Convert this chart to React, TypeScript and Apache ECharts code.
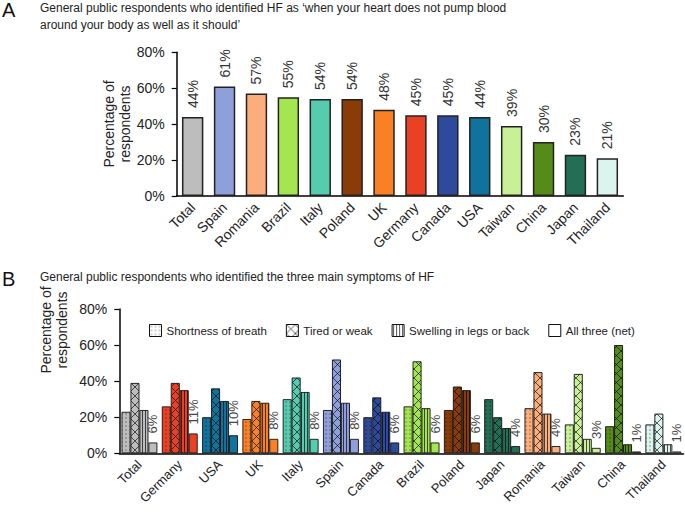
import React, { useEffect, useRef } from 'react';
import * as echarts from 'echarts';

const topCategories = ['Total', 'Spain', 'Romania', 'Brazil', 'Italy', 'Poland', 'UK', 'Germany', 'Canada', 'USA', 'Taiwan', 'China', 'Japan', 'Thailand'];
const topValues = [44, 61, 57, 55, 54, 54, 48, 45, 45, 44, 39, 30, 23, 21];

const bottomCategories = ['Total', 'Germany', 'USA', 'UK', 'Italy', 'Spain', 'Canada', 'Brazil', 'Poland', 'Japan', 'Romania', 'Taiwan', 'China', 'Thailand'];
const shortnessValues = [23, 26, 20, 19, 30, 24, 20, 26, 24, 30, 25, 16, 15, 16];
const tiredValues = [39, 39, 36, 29, 42, 52, 31, 51, 37, 20, 45, 44, 60, 22];
const swellingValues = [24, 35, 29, 28, 34, 28, 23, 25, 35, 14, 22, 8, 5, 5];
const allThreeValues = [6, 11, 10, 8, 8, 8, 6, 6, 6, 4, 4, 3, 1, 1];

const seriesNames = ['Shortness of breath', 'Tired or weak', 'Swelling in legs or back', 'All three (net)'];
const seriesPatterns = ['dots', 'cross', 'lines', 'solid'];

const yTicks = [0, 20, 40, 60, 80];

const titleA1 = 'General public respondents who identified HF as \u2018when your heart does not pump blood';
const titleA2 = 'around your body as well as it should\u2019';
const titleB = 'General public respondents who identified the three main symptoms of HF';
const yName = 'Percentage of\nrespondents';

const countryColors: Record<string, string> = {
  Total: '#bdbdbd',
  Spain: '#8f9fdc',
  Romania: '#fbad7b',
  Brazil: '#a4e64f',
  Italy: '#55ccae',
  Poland: '#8a3b08',
  UK: '#f98025',
  Germany: '#ea4125',
  Canada: '#2e4a9c',
  USA: '#10739d',
  Taiwan: '#c8f097',
  China: '#558b18',
  Japan: '#226f56',
  Thailand: '#dcf4ee',
};

const FONT = '"Liberation Sans", Arial, Helvetica, sans-serif';

function makePattern(color: string, kind: string): any {
  if (kind === 'solid') return color;
  let w = 4;
  let h = 4;
  let body = '';
  if (kind === 'dots') {
    w = 4; h = 4;
    body = '<rect x="1.5" y="1.5" width="1" height="1" fill="#000" fill-opacity="0.75"/>';
  } else if (kind === 'cross') {
    w = 9; h = 9;
    body = '<path d="M0 0L9 9M9 0L0 9" stroke="#000" stroke-opacity="0.8" stroke-width="0.8" fill="none"/>';
  } else if (kind === 'lines') {
    w = 3; h = 3;
    body = '<rect x="1" y="0" width="0.9" height="3" fill="#000" fill-opacity="0.75"/>';
  }
  const svg = `<svg xmlns="http://www.w3.org/2000/svg" width="${w}" height="${h}"><rect width="${w}" height="${h}" fill="${color}"/>${body}</svg>`;
  return {
    image: 'data:image/svg+xml;charset=utf-8,' + encodeURIComponent(svg),
    repeat: 'repeat',
    imageWidth: w,
    imageHeight: h,
  };
}

export default function App() {
  const ref = useRef<HTMLDivElement>(null);

  useEffect(() => {
    if (!ref.current) return;
    const chart = echarts.init(ref.current, null, { renderer: 'svg' });

    const bottomValueSets = [shortnessValues, tiredValues, swellingValues, allThreeValues];

    const axisLineStyle = { color: '#000', width: 1.5 };
    const yAxisCommon = {
      type: 'value',
      min: 0,
      max: 80,
      interval: 20,
      axisLine: { show: true, lineStyle: axisLineStyle },
      axisTick: { show: true, length: 5, lineStyle: { color: '#000', width: 1.2 } },
      splitLine: { show: false },
      axisLabel: { formatter: (v: number) => (yTicks.includes(v) ? v + '%' : ''), fontSize: 14, color: '#222', margin: 12, fontFamily: FONT },
    };

    const bottomSeries = seriesNames.map((name, si) => ({
      type: 'bar',
      name,
      xAxisIndex: 1,
      yAxisIndex: 1,
      barGap: '0%',
      barCategoryGap: '11%',
      itemStyle: { color: makePattern('#ffffff', seriesPatterns[si]), borderColor: '#111', borderWidth: 0.9 },
      label: si === 3 ? {
        show: true,
        position: 'top',
        rotate: 90,
        align: 'left',
        verticalAlign: 'middle',
        distance: 9,
        formatter: '{c}%',
        fontSize: 13,
        color: '#444',
        fontFamily: FONT,
      } : { show: false },
      data: bottomValueSets[si].map((v, i) => ({
        value: v,
        itemStyle: { color: makePattern(countryColors[bottomCategories[i]], seriesPatterns[si]) },
      })),
    }));

    const option: any = {
      animation: false,
      textStyle: { fontFamily: FONT },
      grid: [
        { left: 176.7, top: 52.3, width: 446.6, height: 143.7 },
        { left: 119.3, top: 309, width: 564.2, height: 144.3 },
      ],
      legend: {
        left: 144,
        top: 319,
        itemWidth: 12,
        itemHeight: 12,
        itemGap: 19,
        icon: 'rect',
        textStyle: { fontSize: 11.5, color: '#222', fontFamily: FONT },
        data: seriesNames.map((name, si) => ({
          name,
          icon: 'rect',
          itemStyle: { color: makePattern('#ffffff', seriesPatterns[si]), borderColor: '#111', borderWidth: 1 },
        })),
      },
      xAxis: [
        {
          type: 'category',
          gridIndex: 0,
          data: topCategories,
          axisLine: { lineStyle: axisLineStyle },
          axisTick: { show: false },
          axisLabel: { rotate: 45, interval: 0, fontSize: 14, color: '#222', margin: 9, fontFamily: FONT },
        },
        {
          type: 'category',
          gridIndex: 1,
          data: bottomCategories,
          axisLine: { lineStyle: axisLineStyle },
          axisTick: { show: false },
          axisLabel: { rotate: 45, interval: 0, fontSize: 13, color: '#222', margin: 9, fontFamily: FONT },
        },
      ],
      yAxis: [
        { ...yAxisCommon, gridIndex: 0 },
        { ...yAxisCommon, gridIndex: 1 },
      ],
      series: [
        {
          type: 'bar',
          xAxisIndex: 0,
          yAxisIndex: 0,
          barCategoryGap: '33%',
          data: topValues.map((v, i) => ({
            value: v,
            itemStyle: { color: countryColors[topCategories[i]] },
          })),
          itemStyle: { borderColor: '#222', borderWidth: 1.5 },
          label: {
            show: true,
            position: 'top',
            rotate: 90,
            align: 'left',
            verticalAlign: 'middle',
            distance: 9,
            formatter: '{c}%',
            fontSize: 14,
            color: '#333',
            fontFamily: FONT,
          },
        },
        ...bottomSeries,
      ],
      graphic: [
        { type: 'text', x: 2, y: 10, style: { text: 'A', fontSize: 20, fill: '#111', verticalAlign: 'middle', fontFamily: FONT } },
        { type: 'text', x: 40, y: 7.5, style: { text: titleA1, fontSize: 12, fill: '#222', verticalAlign: 'middle', fontFamily: FONT } },
        { type: 'text', x: 40, y: 24.5, style: { text: titleA2, fontSize: 12, fill: '#222', verticalAlign: 'middle', fontFamily: FONT } },
        { type: 'text', x: 117, y: 124, rotation: Math.PI / 2, style: { text: yName, fontSize: 14, lineHeight: 16, fill: '#222', align: 'center', verticalAlign: 'middle', fontFamily: FONT } },
        { type: 'text', x: 2, y: 278.5, style: { text: 'B', fontSize: 20, fill: '#111', verticalAlign: 'middle', fontFamily: FONT } },
        { type: 'text', x: 40, y: 276.5, style: { text: titleB, fontSize: 12, fill: '#222', verticalAlign: 'middle', fontFamily: FONT } },
        { type: 'text', x: 54, y: 330, rotation: Math.PI / 2, style: { text: yName, fontSize: 14, lineHeight: 16, fill: '#222', align: 'center', verticalAlign: 'middle', fontFamily: FONT } },
      ],
    };

    chart.setOption(option);
    return () => chart.dispose();
  }, []);

  return <div ref={ref} style={{ position: 'absolute', left: 0, top: 0, width: 685, height: 512 }} />;
}
